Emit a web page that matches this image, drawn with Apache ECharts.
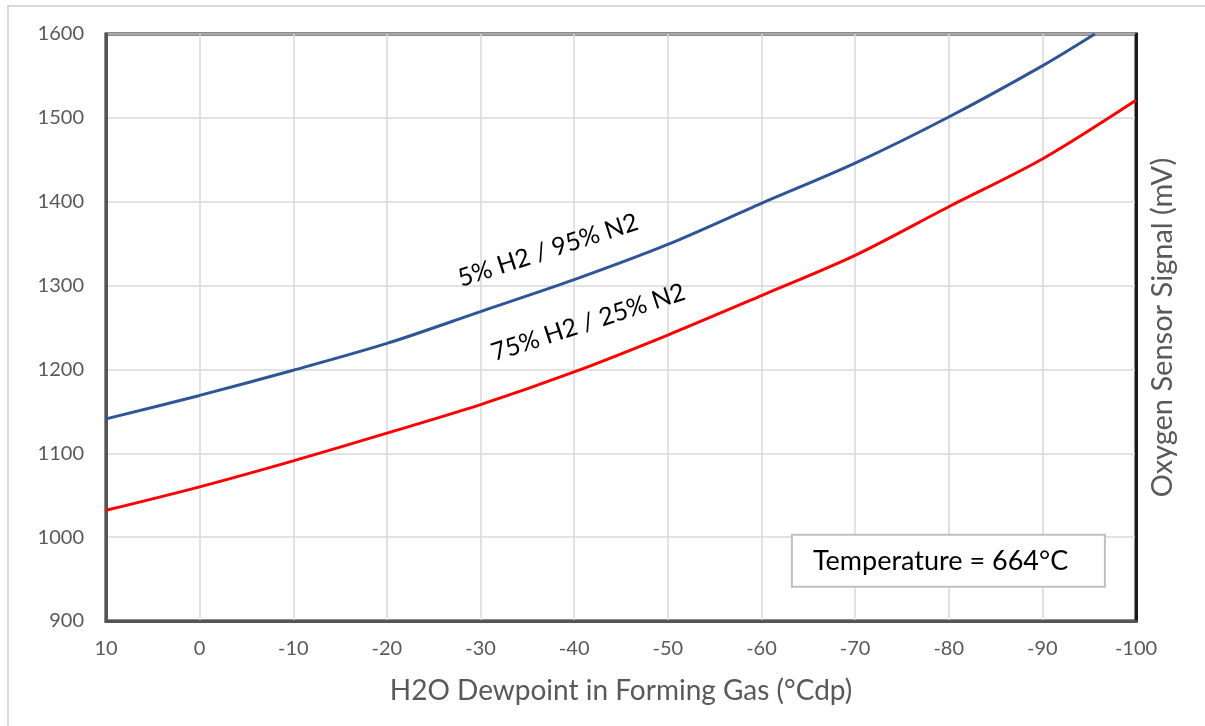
<!DOCTYPE html>
<html>
<head>
<meta charset="utf-8">
<script src="https://cdn.jsdelivr.net/npm/echarts@6/dist/echarts.min.js"></script>
<style>
html,body{margin:0;padding:0;background:#fff;}
#chart{width:1205px;height:726px;}
</style>
</head>
<body>
<div id="chart"></div>
<script>
// Data
const dewpointBlue = [10, 0, -10, -20, -30, -40, -50, -60, -70, -80, -90, -95.6];
const signalBlue   = [1141, 1169, 1199, 1231, 1269, 1307, 1349, 1398, 1446, 1501, 1562, 1600];
const dewpointRed  = [10, 0, -10, -20, -30, -40, -50, -60, -70, -80, -90, -100];
const signalRed    = [1032, 1060, 1091, 1124, 1158, 1197, 1241, 1288, 1336, 1394, 1451, 1521];
const seriesNames  = ['5% H2 / 95% N2', '75% H2 / 25% N2'];
// label anchor points in data units (dewpoint, signal)
const labelAnchors = [[-37.2, 1342], [-41.5, 1256]];
const labelRotation = 18; // degrees
const xTicks = {min: -100, max: 10, interval: 10};
const yTicks = {min: 900, max: 1600, interval: 100};
const xTitle = 'H2O Dewpoint in Forming Gas (°Cdp)';
const yTitle = 'Oxygen Sensor Signal (mV)';
const noteText = 'Temperature = 664°C';

const FONT = 'Lato, "Noto Sans", sans-serif';
const chart = echarts.init(document.getElementById('chart'), null, {renderer: 'canvas'});

function pairs(xs, ys){ return xs.map((x,i)=>[x, ys[i]]); }

const option = {
  backgroundColor: '#ffffff',
  animation: false,
  grid: {left: 106, right: 69, top: 34, bottom: 105, show: true, borderColor: '#1a1a1a', borderWidth: 3, backgroundColor: 'transparent'},
  xAxis: {
    type: 'value', inverse: true, min: xTicks.min, max: xTicks.max, interval: xTicks.interval,
    name: xTitle, nameLocation: 'middle', nameGap: 56,
    nameTextStyle: {fontFamily: FONT, fontSize: 28, color: '#595959'},
    axisLine: {show: true, onZero: false, lineStyle: {color: '#555555', width: 3}},
    axisTick: {show: false},
    axisLabel: {fontFamily: FONT, fontSize: 20, color: '#595959', margin: 18},
    splitLine: {show: true, lineStyle: {color: '#d9d9d9', width: 1.5}}
  },
  yAxis: [{
    type: 'value', min: yTicks.min, max: yTicks.max, interval: yTicks.interval,
    axisLine: {show: true, onZero: false, lineStyle: {color: '#555555', width: 3}},
    axisTick: {show: false},
    axisLabel: {fontFamily: FONT, fontSize: 20, color: '#595959', margin: 22, formatter: v => String(v)},
    splitLine: {show: true, lineStyle: {color: '#d9d9d9', width: 1.5}}
  }, {
    type: 'value', position: 'right', min: yTicks.min, max: yTicks.max, interval: yTicks.interval,
    name: yTitle, nameLocation: 'middle', nameRotate: 90, nameGap: 12,
    nameTextStyle: {fontFamily: FONT, fontSize: 29, color: '#595959'},
    axisLine: {show: true, onZero: false, lineStyle: {color: '#1a1a1a', width: 3}},
    axisTick: {show: false}, axisLabel: {show: false}, splitLine: {show: false}
  }],
  series: [{
    name: seriesNames[0], type: 'line', data: pairs(dewpointBlue, signalBlue),
    smooth: 0.3, showSymbol: false, symbol: 'none', clip: true,
    lineStyle: {color: '#2f5597', width: 3}, z: 5
  }, {
    name: seriesNames[1], type: 'line', data: pairs(dewpointRed, signalRed),
    smooth: 0.3, showSymbol: false, symbol: 'none', clip: true,
    lineStyle: {color: '#ff0000', width: 3}, z: 5
  }]
};
chart.setOption(option);

const graphics = [{
  type: 'rect', left: 7, top: 5, z: -10, silent: true,
  shape: {x: 0, y: 0, width: 1300, height: 800},
  style: {fill: 'transparent', stroke: '#d9d9d9', lineWidth: 2}
}];
labelAnchors.forEach((a, i) => {
  const p = chart.convertToPixel({xAxisIndex: 0, yAxisIndex: 0}, a);
  graphics.push({
    type: 'text', x: p[0], y: p[1], rotation: labelRotation * Math.PI / 180, z: 20,
    style: {text: seriesNames[i], fontFamily: FONT, fontSize: 25, fill: '#000000', align: 'center', verticalAlign: 'middle'}
  });
});
// note box at the lower right of the plot
const boxTL = chart.convertToPixel({xAxisIndex: 0, yAxisIndex: 0}, [-63.25, 1003]);
graphics.push({
  type: 'group', x: boxTL[0], y: boxTL[1], z: 20,
  children: [{
    type: 'rect', shape: {x: 0, y: 0, width: 313, height: 52},
    style: {fill: '#ffffff', stroke: '#bfbfbf', lineWidth: 2}
  }, {
    type: 'text', x: 21, y: 27,
    style: {text: noteText, fontFamily: FONT, fontSize: 27, fill: '#000000', align: 'left', verticalAlign: 'middle'}
  }]
});
chart.setOption({graphic: graphics});
</script>
</body>
</html>
